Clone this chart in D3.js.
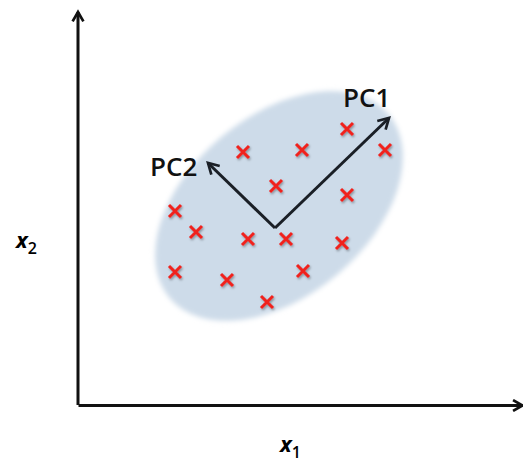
<!DOCTYPE html>
<html><head><meta charset="utf-8">
<script src="https://cdn.jsdelivr.net/npm/d3@7"></script>
<style>body{margin:0;background:#fff}svg{display:block}</style>
</head><body>
<script>
// Data (arbitrary units, origin at the axis corner)
const pointX = [269, 307, 224, 165, 198, 269, 97, 118, 170, 208, 264, 97, 149, 225, 189];
const pointY = [276, 255, 255, 253, 219, 210, 194, 173, 166, 166, 162, 133, 125, 134, 103];
const pcOrigin = [197, 177];
const pcTipsX = [311, 130];
const pcTipsY = [287, 242];
const pcLabels = ["PC1", "PC2"];
const ellipseCenter = [201, 199];
const ellipseRadii = [143, 90];
const ellipseAngle = 40;
const axisLabels = ["x", "x"];
const axisSubs = ["1", "2"];

const W = 523, H = 466;
const x = d3.scaleLinear().domain([0, 444]).range([78, 522]);
const y = d3.scaleLinear().domain([0, 393]).range([405, 12]);

const svg = d3.select("body").append("svg").attr("width", W).attr("height", H);
const defs = svg.append("defs");
defs.append("filter").attr("id", "soft").attr("x", "-10%").attr("y", "-10%").attr("width", "120%").attr("height", "120%")
  .append("feGaussianBlur").attr("stdDeviation", 2.5);
const sh = defs.append("filter").attr("id", "shadow").attr("x", "-50%").attr("y", "-50%").attr("width", "200%").attr("height", "200%");
sh.append("feDropShadow").attr("dx", 1).attr("dy", 1.5).attr("stdDeviation", 1).attr("flood-color", "#000").attr("flood-opacity", 0.35);
defs.append("marker").attr("id", "ah").attr("viewBox", "0 0 10 10").attr("refX", 8).attr("refY", 5)
  .attr("markerWidth", 4.5).attr("markerHeight", 4.5).attr("orient", "auto").attr("markerUnits", "strokeWidth")
  .append("path").attr("d", "M1,1 L8,5 L1,9").attr("fill", "none").attr("stroke", "#111").attr("stroke-width", 2)
  .attr("stroke-linejoin", "miter");
defs.append("marker").attr("id", "ah2").attr("viewBox", "0 0 10 10").attr("refX", 8).attr("refY", 5)
  .attr("markerWidth", 5).attr("markerHeight", 5).attr("orient", "auto").attr("markerUnits", "strokeWidth")
  .append("path").attr("d", "M1,1 L8,5 L1,9").attr("fill", "none").attr("stroke", "#1a1f26").attr("stroke-width", 1.8);

// Ellipse
const cx = x(ellipseCenter[0]), cy = y(ellipseCenter[1]);
svg.append("ellipse")
  .attr("cx", cx).attr("cy", cy)
  .attr("rx", x(ellipseRadii[0]) - x(0)).attr("ry", x(ellipseRadii[1]) - x(0))
  .attr("transform", `rotate(${-ellipseAngle},${cx},${cy})`)
  .attr("fill", "#cddbe9").attr("filter", "url(#soft)");

// Axes (no ticks)
const gx = svg.append("g").attr("transform", `translate(0,${y(0)})`)
  .call(d3.axisBottom(x).tickValues([]).tickSizeOuter(0));
gx.select(".domain").attr("stroke", "#111").attr("stroke-width", 3).attr("marker-end", "url(#ah)");
const gy = svg.append("g").attr("transform", `translate(${x(0)},0)`)
  .call(d3.axisLeft(y).tickValues([]).tickSizeOuter(0));
gy.select(".domain").attr("stroke", "#111").attr("stroke-width", 3)
  .attr("d", `M0,${y(0)}V${y(393)}`).attr("marker-end", "url(#ah)");

// Points as crosses
const s = 6;
svg.append("g").selectAll("path").data(pointX.map((d, i) => [d, pointY[i]])).join("path")
  .attr("d", d => `M${x(d[0]) - s},${y(d[1]) - s}L${x(d[0]) + s},${y(d[1]) + s}M${x(d[0]) - s},${y(d[1]) + s}L${x(d[0]) + s},${y(d[1]) - s}`)
  .attr("stroke", "#f0221f").attr("stroke-width", 3).attr("fill", "none").attr("filter", "url(#shadow)");

// PC arrows
svg.append("g").selectAll("line").data(pcTipsX.map((d, i) => [d, pcTipsY[i]])).join("line")
  .attr("x1", x(pcOrigin[0])).attr("y1", y(pcOrigin[1]))
  .attr("x2", d => x(d[0])).attr("y2", d => y(d[1]))
  .attr("stroke", "#1a1f26").attr("stroke-width", 3).attr("marker-end", "url(#ah2)");

const font = "'Open Sans', 'Liberation Sans', sans-serif";
svg.append("text").attr("x", x(pcTipsX[0]) - 46).attr("y", y(pcTipsY[0]) - 11)
  .attr("font-family", font).attr("font-size", 26).attr("font-weight", 600).attr("fill", "#111").text(pcLabels[0]);
svg.append("text").attr("x", x(pcTipsX[1]) - 58).attr("y", y(pcTipsY[1]) + 13)
  .attr("font-family", font).attr("font-size", 26).attr("font-weight", 600).attr("fill", "#111").text(pcLabels[1]);

// Axis labels
function axisLabel(px, py, t, sub) {
  const tx = svg.append("text").attr("x", px).attr("y", py)
    .attr("font-family", font).attr("font-size", 22).attr("font-weight", "bold").attr("fill", "#000");
  tx.append("tspan").attr("font-style", "italic").text(t);
  tx.append("tspan").attr("font-size", 16).attr("dy", 6).attr("font-weight", 600).text(sub);
}
axisLabel(280, 452, axisLabels[0], axisSubs[0]);
axisLabel(16, 248, axisLabels[1], axisSubs[1]);
</script>
</body></html>
